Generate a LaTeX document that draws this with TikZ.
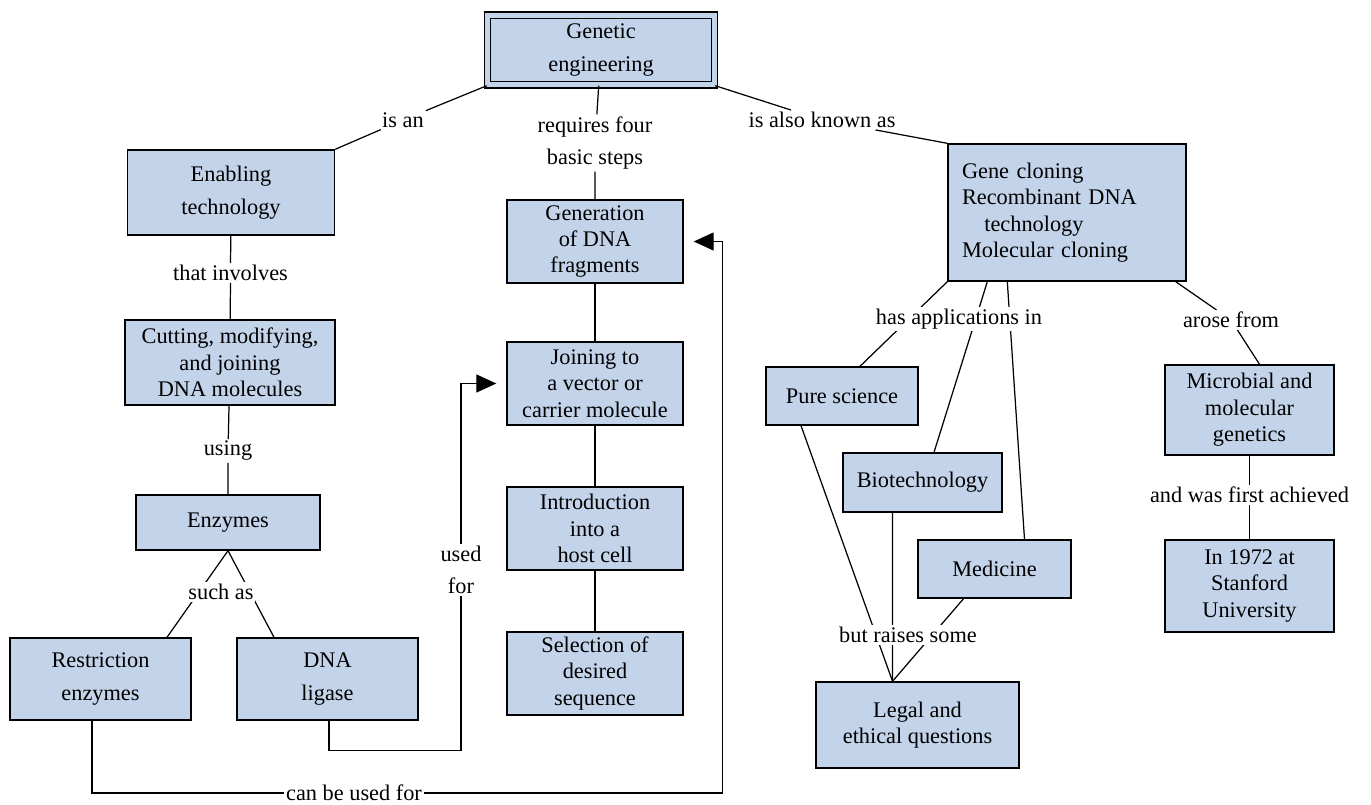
\documentclass[tikz,border=0pt]{standalone}
\usepackage{fontspec}
\setmainfont{Liberation Serif}
\usetikzlibrary{arrows.meta,calc}
\definecolor{boxblue}{HTML}{C3D3E9}
\tikzset{
 box/.style={draw, line width=0.8pt, fill=boxblue, align=center, inner sep=2pt, font=\fontsize{12.7}{15}\selectfont},
 lbl/.style={align=center, inner sep=1pt, font=\fontsize{12.7}{15}\selectfont},
 wlbl/.style={lbl, fill=white},
 conn/.style={line width=0.7pt},
 arr/.style={conn, -{Triangle[length=0.4cm,width=0.36cm]}, shorten >=0.2cm},
}

\begin{document}
\begin{tikzpicture}[x=0.02cm, y=-0.02cm]
 \useasboundingbox (0,0) rectangle (1371,804);
 \node[box, double=boxblue, double distance=0.1cm, minimum width=4.54cm, minimum height=1.4cm] (ge) at (601,50) {Genetic\\[3.5pt]engineering}; %top
 % left branch
 \node[box, minimum width=4.14cm, minimum height=1.7cm] (enab) at (231,192.5) {Enabling\\[3.5pt]technology};
 \node[box, minimum width=4.2cm, minimum height=1.7cm] (cut) at (230,362.5) {Cutting, modifying,\\and joining\\DNA molecules};
 \node[box, minimum width=3.68cm, minimum height=1.1cm] (enz) at (228,522.5) {Enzymes};
 \node[box, minimum width=3.62cm, minimum height=1.64cm] (restr) at (100.5,679) {Restriction\\[3.5pt]enzymes};
 \node[box, minimum width=3.62cm, minimum height=1.64cm] (lig) at (327.5,679) {DNA\\[3.5pt]ligase};
 % four steps
 \node[box, minimum width=3.52cm, minimum height=1.66cm] (gen) at (595,241.5) {Generation\\of DNA\\fragments};
 \node[box, minimum width=3.52cm, minimum height=1.66cm] (join) at (595,383.5) {Joining to\\a vector or\\carrier molecule};
 \node[box, minimum width=3.52cm, minimum height=1.66cm] (intro) at (595,528.5) {Introduction\\into a\\host cell};
 \node[box, minimum width=3.52cm, minimum height=1.66cm] (sel) at (595,673.5) {Selection of\\desired\\sequence};
 % right branch
 \node[box, minimum width=4.76cm, minimum height=2.74cm, text width=4.2cm, align=left] (gc) at (1067,212.5) {Gene cloning\\Recombinant DNA\\\hspace*{1em}technology\\Molecular cloning};
 \node[box, minimum width=3.04cm, minimum height=1.16cm] (pure) at (842,396) {Pure science};
 \node[box, minimum width=3.18cm, minimum height=1.18cm] (bio) at (922.5,482.5) {Biotechnology};
 \node[box, minimum width=3.06cm, minimum height=1.16cm] (med) at (994.5,569) {Medicine};
 \node[box, minimum width=4.06cm, minimum height=1.72cm] (legal) at (917.5,725) {Legal and\\ethical questions};
 \node[box, minimum width=3.38cm, minimum height=1.8cm] (micro) at (1249.5,410) {Microbial and\\molecular\\genetics};
 \node[box, minimum width=3.38cm, minimum height=1.84cm] (y1972) at (1249.5,586) {In 1972 at\\Stanford\\University};
 % link labels
 \node[lbl] (isan) at (403,120) {is an};
 \node[lbl] (req) at (595,143) {requires four\\[3.5pt]basic steps};
 \node[lbl] (aka) at (822,120) {is also known as};
 \node[lbl] (inv) at (230.5,273) {that involves};
 \node[lbl] (using) at (228,451) {using};
 \node[lbl] (usedfor) at (461,570) {used\\[3.5pt]for};
 \node[lbl] (canbe) at (354,793) {can be used for};
 \node[lbl] (arose) at (1231,320) {arose from};
 \node[lbl] (first) at (1249.5,495) {and was first achieved};
 % links
 \draw[conn] (ge.south west) -- (isan) -- (enab.north east);
 \draw[conn] (ge) -- (req) -- (gen);
 \draw[conn] (ge.south east) -- (aka) -- (gc.north west);
 \draw[conn] (enab) -- (inv) -- (cut);
 \draw[conn] (cut) -- (using) -- (enz);
 \draw[conn] (gen) -- (join) -- (intro) -- (sel);
 \draw[conn] (enz.south) -- ([xshift=1.33cm]restr.north);
 \draw[conn] (enz.south) -- ([xshift=-1.07cm]lig.north);
 \node[wlbl] (such) at (221,592) {such as};
 \draw[conn] ([xshift=0.03cm]lig.south) -- ++(0,30) -| (usedfor);
 \draw[arr] (usedfor) |- (join.west); %arrow to step 2
 \draw[conn] ([xshift=-0.17cm]restr.south) |- (canbe);
 \draw[arr] (canbe) -| ([xshift=0.78cm]gen.east) -- (gen.east); %arrow to step 1
 \draw[conn] (gc.south west) -- ([xshift=0.36cm]pure.north);
 \draw[conn] ([xshift=0.8cm]gc.south west) -- ([xshift=0.23cm]bio.north);
 \draw[conn] ([xshift=1.2cm]gc.south west) -- ([xshift=0.6cm]med.north);
 \node[wlbl] (apps) at (959,319) {has applications in};
 \draw[conn] ([xshift=-0.22cm]gc.south east) -- (arose) -- ([xshift=0.2cm]micro.north);
 \draw[conn] (micro) -- (first) -- (y1972);
 \coordinate (lt) at ([xshift=-0.5cm]legal.north);
 \draw[conn] ([xshift=-0.82cm]pure.south) -- (lt);
 \draw[conn] ([xshift=-0.6cm]bio.south) -- (lt);
 \draw[conn] ([xshift=-0.62cm]med.south) -- (lt);
 \node[wlbl] (raises) at (908,635) {but raises some};
\end{tikzpicture}
\end{document}
